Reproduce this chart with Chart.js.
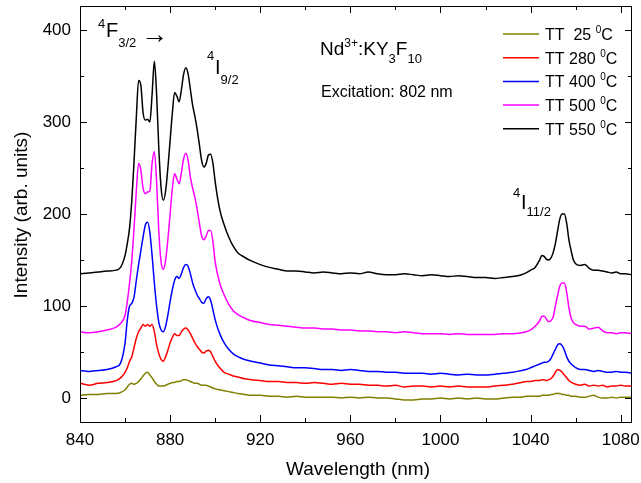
<!DOCTYPE html>
<html>
<head>
<meta charset="utf-8">
<script src="https://cdn.jsdelivr.net/npm/chart.js@4/dist/chart.umd.min.js"></script>
<style>
  html, body { margin: 0; padding: 0; background: #fff; }
  canvas { display: block; }
</style>
</head>
<body>
<canvas id="spectra" width="641" height="483"></canvas>
<script>
// Wavelength grid (nm)
const wavelength = [
  840, 844, 848, 852, 856, 858, 860,
  861, 862, 863, 864, 865, 866, 867, 868, 869, 870,
  871, 872, 873, 874, 875, 876, 877, 878, 879, 880,
  881, 882, 883, 884, 885, 886, 887, 888, 889, 890,
  891, 892, 893, 894, 895, 896, 897, 898, 899, 900,
  902, 904, 906, 908, 910, 913, 916, 920,
  924, 928, 932, 936, 940, 944, 948, 952, 956, 960,
  964, 968, 972, 976, 980, 984, 988, 992, 996, 1000,
  1004, 1008, 1012, 1016, 1020, 1024, 1028, 1032, 1036,
  1038, 1040, 1042, 1044,
  1045, 1046, 1047, 1048, 1049, 1050, 1051, 1052, 1053, 1054,
  1055, 1056, 1057, 1058, 1059, 1060,
  1062, 1064, 1066, 1068, 1070, 1072, 1074, 1076, 1078, 1080, 1082, 1085
];

// Intensity (arb. units) per heat treatment
const tt25 = [
  3, 4, 4, 5, 5, 6, 9,
  12, 15, 16, 15, 16, 18, 21, 24, 27, 28,
  25, 22, 18, 15, 13, 13, 13, 14, 15, 16,
  17, 17, 18, 18, 19, 20, 20, 19, 18, 17,
  16, 16, 15, 14, 14, 14, 13, 12, 11, 10,
  9, 8, 7, 6, 5, 4, 3, 3,
  2, 2, 1, 2, 1, 1, 1, 1, 0, 1,
  0, 1, 0, 0, -1, -2, -2, -1, -1, 0,
  -1, 0, -1, 0, -1, -1, 0, 1, 1,
  2, 2, 2, 2,
  3, 3, 3, 3, 4, 4, 5, 5, 5, 4,
  4, 3, 3, 2, 2, 2,
  1, 1, 2, 3, 1, 0, 0, 1, 0, 1, 1, 1
];
const tt280 = [
  16, 14, 16, 17, 19, 22, 28,
  33, 40, 45, 55, 65, 72, 76, 80, 78, 80,
  78, 80, 72, 58, 48, 42, 40, 45, 52, 60,
  66, 70, 68, 68, 72, 75, 76, 74, 70, 65,
  60, 56, 53, 50, 49, 51, 52, 50, 45, 40,
  33, 28, 26, 24, 23, 21, 20, 19,
  18, 18, 17, 17, 16, 17, 16, 15, 16, 15,
  15, 14, 14, 13, 14, 12, 13, 13, 12, 13,
  12, 13, 12, 12, 12, 13, 14, 15, 17,
  18, 18, 19, 19,
  20, 20, 19, 20, 21, 24, 28, 31, 30, 28,
  25, 22, 19, 17, 16, 15,
  14, 15, 13, 14, 13, 14, 12, 13, 13, 14, 13, 13
];
const tt400 = [
  30, 29, 30, 31, 34, 38, 60,
  85, 100, 103, 110, 128, 145, 160, 175, 188, 191,
  180, 155, 125, 100, 82, 74, 72, 78, 90, 105,
  118, 128, 132, 130, 135, 142, 145, 143, 135, 125,
  118, 112, 108, 104, 103, 108, 110, 106, 96, 85,
  70, 60, 53, 48, 45, 42, 40, 38,
  36, 35, 34, 33, 33, 32, 31, 31, 30, 31,
  30, 29, 29, 28, 28, 27, 27, 27, 26, 27,
  26, 25, 26, 25, 25, 26, 27, 28, 30,
  31, 33, 35, 37,
  38, 39, 39, 40, 43, 48, 53, 58, 59, 57,
  52, 45, 40, 37, 35, 33,
  31, 31, 30, 29, 30, 29, 28, 28, 29, 28, 28, 27
];
const tt500 = [
  72, 71, 72, 74, 77, 81, 90,
  105, 125, 150, 185, 225, 255, 248, 228, 222, 224,
  225, 255, 268, 235, 180, 148, 140, 150, 172, 200,
  228, 244, 238, 233, 245, 260, 266, 258, 240, 228,
  218, 205, 190, 176, 172, 176, 182, 182, 170, 148,
  125, 112, 102, 95, 91, 87, 84, 82,
  80, 79, 78, 77, 76, 76, 75, 75, 74, 74,
  73, 73, 72, 72, 71, 72, 71, 70, 70, 70,
  69, 70, 69, 69, 69, 69, 70, 70, 71,
  72, 74, 78, 84,
  89, 89, 86, 83, 84, 88, 100, 112, 122, 125,
  125, 115, 98, 87, 82, 80,
  78, 78, 75, 76, 77, 73, 71, 71, 70, 71, 71, 70
];
const tt550 = [
  135, 136, 137, 138, 139, 142, 155,
  168, 185, 215, 258, 305, 345, 340, 310, 302, 303,
  300, 330, 366, 330, 270, 228, 215, 225, 250, 280,
  310, 332, 328, 322, 335, 352, 359, 352, 335, 318,
  306, 292, 275, 258, 251, 255, 264, 265, 255, 235,
  205, 188, 175, 165, 158, 153, 149, 145,
  142, 140, 138, 138, 137, 136, 137, 136, 135, 136,
  135, 137, 135, 134, 134, 135, 134, 133, 134, 133,
  132, 133, 132, 131, 131, 130, 131, 132, 134,
  136, 139, 142, 150,
  155, 154, 151, 150, 152, 158, 168, 182, 195, 200,
  200, 190, 172, 160, 150, 146,
  144, 145, 141, 139, 139, 138, 137, 136, 137, 135, 135, 134
];

const seriesLabels = ['TT  25 ', 'TT 280 ', 'TT 400 ', 'TT 500 ', 'TT 550 '];
const seriesColors = ['#808000', '#ff0000', '#0000ff', '#ff00ff', '#000000'];
const seriesValues = [tt25, tt280, tt400, tt500, tt550];

const FONT = '"Liberation Sans", Arial, sans-serif';

// draw a run of text pieces: [text, size, baseline shift]
function richText(ctx, x, y, parts) {
    ctx.textAlign = 'left';
    ctx.textBaseline = 'alphabetic';
    parts.forEach(([t, size, dy]) => {
        ctx.font = size + 'px ' + FONT;
        ctx.fillText(t, x, y + dy);
        x += ctx.measureText(t).width;
    });
}

const decorations = {
    id: 'decorations',
    afterDraw(chart) {
        const ctx = chart.ctx;
        const area = chart.chartArea;
        const xs = chart.scales.x, ys = chart.scales.y;
        ctx.save();
        ctx.strokeStyle = '#000';
        ctx.fillStyle = '#000';
        ctx.lineWidth = 1;

        // frame
        ctx.strokeRect(Math.round(area.left) + 0.5, Math.round(area.top) + 0.5,
            Math.round(area.right - area.left) - 1, Math.round(area.bottom - area.top));

        // inward ticks on all four sides
        ctx.beginPath();
        for (let v = 840; v <= 1085; v += 20) {
            const px = Math.round(xs.getPixelForValue(v)) + 0.5;
            const len = (v % 40 === 0) ? 7 : 4;
            ctx.moveTo(px, area.bottom); ctx.lineTo(px, area.bottom - len);
            ctx.moveTo(px, area.top); ctx.lineTo(px, area.top + len);
        }
        for (let v = 0; v <= 426; v += 50) {
            const py = Math.round(ys.getPixelForValue(v)) + 0.5;
            const len = (v % 100 === 0) ? 7 : 4;
            ctx.moveTo(area.left, py); ctx.lineTo(area.left + len, py);
            ctx.moveTo(area.right, py); ctx.lineTo(area.right - len, py);
        }
        ctx.stroke();

        // axis titles
        ctx.font = '19px ' + FONT;
        ctx.textAlign = 'center';
        ctx.textBaseline = 'alphabetic';
        ctx.fillText('Wavelength (nm)', (area.left + area.right) / 2 + 2, 475);
        ctx.save();
        ctx.translate(27, 215);
        ctx.rotate(-Math.PI / 2);
        ctx.fillText('Intensity (arb. units)', 0, 0);
        ctx.restore();

        // legend
        seriesLabels.forEach((lab, i) => {
            const y = 34 + i * 23.7;
            ctx.strokeStyle = seriesColors[i];
            ctx.lineWidth = 1.5;
            ctx.beginPath();
            ctx.moveTo(503, y); ctx.lineTo(539, y);
            ctx.stroke();
            richText(ctx, 545, y + 6, [[lab, 16, 0], ['0', 10, -7], ['C', 16, 0]]);
        });

        // annotations
        richText(ctx, 98, 28, [['4', 13, 0]]);
        richText(ctx, 106, 37, [['F', 20, 0], ['3/2', 13, 10]]);
        richText(ctx, 141, 43, [['\u2192', 27, 0]]);
        richText(ctx, 207, 60, [['4', 13, 0]]);
        richText(ctx, 215, 74, [['I', 20, 0], ['9/2', 13, 10]]);
        richText(ctx, 513, 197, [['4', 13, 0]]);
        richText(ctx, 521, 209, [['I', 20, 0], ['11/2', 13, 7]]);
        richText(ctx, 320, 55, [['Nd', 19, 0], ['3+', 12, -8], [':KY', 19, 0], ['3', 13, 8], ['F', 19, 0], ['10', 13, 8]]);
        richText(ctx, 321, 97, [['Excitation: 802 nm', 16, 0]]);
        ctx.restore();
    }
};

const ctx = document.getElementById('spectra').getContext('2d');
const chart = new Chart(ctx, {
    type: 'line',
    data: {
        datasets: seriesValues.map((vals, i) => ({
            label: seriesLabels[i],
            data: wavelength.map((w, j) => ({ x: w, y: vals[j] })),
            borderColor: seriesColors[i],
            borderWidth: 1.5,
            pointRadius: 0,
            cubicInterpolationMode: 'monotone',
            fill: false
        }))
    },
    options: {
        responsive: false,
        animation: false,
        devicePixelRatio: 1,
        layout: { padding: { left: 0, top: 6, right: 9, bottom: 0 } },
        plugins: { legend: { display: false }, tooltip: { enabled: false } },
        scales: {
            x: {
                type: 'linear',
                min: 840,
                max: 1085,
                grid: { display: false, drawTicks: false },
                border: { display: false },
                ticks: {
                    stepSize: 40,
                    includeBounds: false,
                    autoSkip: false,
                    maxRotation: 0,
                    padding: 8,
                    color: '#000',
                    font: { family: FONT, size: 17 },
                    callback: v => String(v)
                },
                afterFit(s) { s.height = 61; s.paddingLeft = 0; s.paddingRight = 0; }
            },
            y: {
                min: -26,
                max: 426,
                grid: { display: false, drawTicks: false },
                border: { display: false },
                ticks: {
                    stepSize: 100,
                    includeBounds: false,
                    padding: 9,
                    color: '#000',
                    font: { family: FONT, size: 17 },
                    callback: v => String(v)
                },
                afterFit(s) { s.width = 80; s.paddingTop = 0; s.paddingBottom = 0; }
            }
        }
    },
    plugins: [decorations]
});
</script>
</body>
</html>
